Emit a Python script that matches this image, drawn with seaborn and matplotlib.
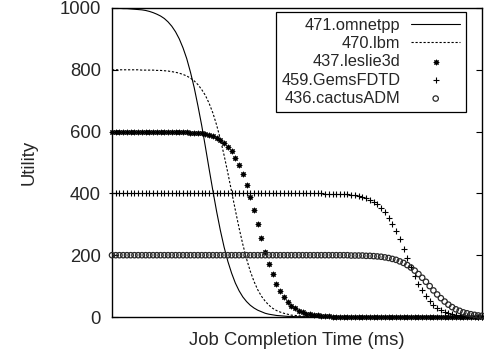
import matplotlib
matplotlib.use("Agg")
import matplotlib.pyplot as plt
import seaborn as sns

# sample index along the (unlabelled) job completion time axis
job_time = list(range(100))

# utility curves
omnetpp = [999, 999, 999, 998, 998, 997, 996, 995, 994, 992,
           989, 985, 980, 974, 966, 955, 941, 923, 900, 871,
           836, 792, 742, 683, 620, 550, 478, 408, 341, 280,
           226, 180, 142, 110, 85, 65, 50, 38, 29, 22,
           17, 12, 9, 7, 5, 4, 3, 2, 2, 1,
           1, 1] + [0] * 48
lbm = [800, 800, 800, 800, 800, 800, 800, 800, 799, 799,
       799, 799, 798, 798, 797, 796, 794, 792, 789, 785,
       780, 773, 764, 752, 736, 717, 691, 660, 621, 575,
       523, 466, 406, 346, 288, 235, 188, 148, 115, 88,
       67, 51, 38, 28, 21, 16, 12, 9, 6, 5,
       4, 3, 2, 2, 1, 1] + [0] * 44
leslie3d = [600] * 16 + [599, 599, 599, 599,
            598, 597, 597, 595, 594, 591, 589, 585, 579, 572,
            563, 551, 536, 516, 492, 462, 428, 388, 345, 300,
            255, 211, 172, 138, 108, 84, 64, 49, 37, 28,
            21, 15, 11, 9, 6, 5, 3, 3, 2, 1,
            1, 1] + [0] * 38
gemsfdtd = [400] * 57 + [399, 399, 399,
            399, 398, 397, 397, 395, 394, 392, 389, 385, 380,
            373, 365, 354, 340, 322, 302, 278, 251, 221, 191,
            161, 133, 108, 86, 67, 52, 40, 30, 22, 17,
            13, 9, 7, 5, 4, 3, 2, 2, 1, 1]
cactusadm = [200] * 64 + [199, 199, 199, 199, 198, 198,
             197, 196, 195, 193, 191, 188, 185, 180, 175, 168,
             160, 150, 139, 127, 114, 100, 86, 73, 61, 50,
             40, 32, 25, 20, 15, 12, 9, 7, 5, 4]

y_ticks = [0, 200, 400, 600, 800, 1000]

sns.set_style("ticks")
plt.rcParams["font.family"] = ["Liberation Sans", "DejaVu Sans"]

fig = plt.figure(figsize=(4.84, 3.54), dpi=100)
ax = fig.add_axes([112 / 484, 37 / 354, 370 / 484, 309 / 354])

sns.lineplot(x=job_time, y=omnetpp, ax=ax, color="black", linewidth=0.8,
             label="471.omnetpp")
sns.lineplot(x=job_time, y=lbm, ax=ax, color="black", linewidth=0.8,
             dashes=False, linestyle=(0, (2.0, 1.6)), label="470.lbm")

sc_kw = dict(ax=ax, clip_on=False, zorder=3)
sns.scatterplot(x=job_time, y=leslie3d, marker=(8, 2, 0), s=11, color="black",
                linewidth=0.8, label="437.leslie3d", **sc_kw)
sns.scatterplot(x=job_time, y=gemsfdtd, marker="+", s=15, color="black",
                linewidth=0.8, label="459.GemsFDTD", **sc_kw)
sns.scatterplot(x=job_time, y=cactusadm, marker="o", s=15, facecolor="none",
                edgecolor="#2a2a2a", linewidth=0.9, label="436.cactusADM", **sc_kw)

ax.set_xlim(0, 99)
ax.set_ylim(0, 1000)
ax.set_xticks([])
ax.set_yticks(y_ticks)
ax.tick_params(axis="y", direction="in", length=4, width=0.8, left=True, right=True,
               labelsize=13.3, pad=8, color="black")
for sp in ax.spines.values():
    sp.set_visible(True)
    sp.set_color("black")
    sp.set_linewidth(1.0)

ax.set_xlabel("Job Completion Time (ms)", fontsize=13.3, labelpad=11)
ax.set_ylabel("Utility", fontsize=13.3, labelpad=16)

leg = ax.legend(loc="upper right", bbox_to_anchor=(466 / 484, 1 - 12 / 354),
                bbox_transform=fig.transFigure, borderaxespad=0, fontsize=11.8,
                markerfirst=False, fancybox=False, framealpha=1, edgecolor="black",
                handlelength=3.0, handletextpad=0.65, labelspacing=0.2,
                borderpad=0.35, scatterpoints=1)
leg.get_frame().set_linewidth(0.9)

fig.savefig("out.png", dpi=100)
